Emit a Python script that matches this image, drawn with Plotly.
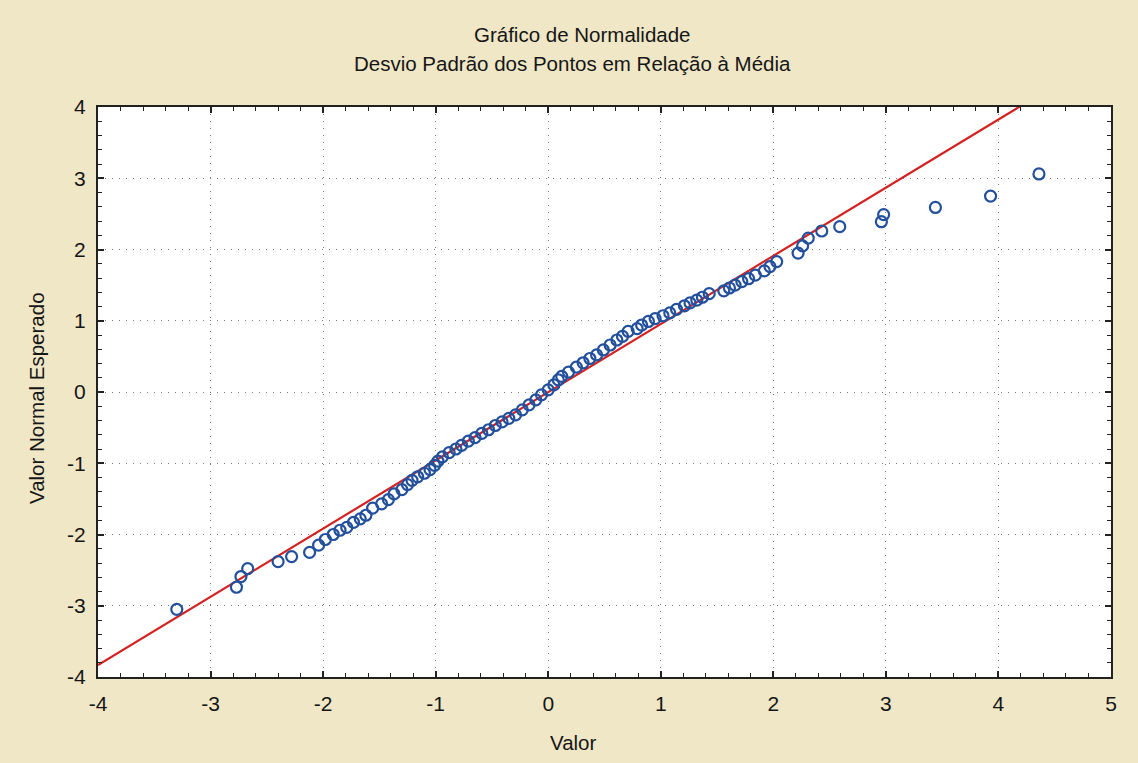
import plotly.graph_objects as go

# Observed values (x: Valor) and expected normal values (y)
valor = [-3.30, -2.77, -2.73, -2.67, -2.40, -2.28, -2.12, -2.04, -1.98, -1.91,
         -1.85, -1.79, -1.73, -1.67, -1.62, -1.56, -1.48, -1.42, -1.37, -1.30,
         -1.25, -1.21, -1.16, -1.10, -1.05, -1.01, -0.98, -0.94, -0.88, -0.82,
         -0.77, -0.71, -0.65, -0.59, -0.53, -0.47, -0.41, -0.35, -0.29, -0.23,
         -0.17, -0.11, -0.06, 0.00, 0.05, 0.09, 0.12, 0.18, 0.25, 0.31,
         0.37, 0.43, 0.49, 0.55, 0.61, 0.66, 0.71, 0.79, 0.83, 0.89,
         0.95, 1.02, 1.08, 1.14, 1.21, 1.26, 1.32, 1.37, 1.43, 1.56,
         1.61, 1.66, 1.72, 1.78, 1.84, 1.92, 1.97, 2.03, 2.22, 2.26,
         2.31, 2.43, 2.59, 2.96, 2.98, 3.44, 3.93, 4.36]
esperado = [-3.05, -2.74, -2.59, -2.48, -2.38, -2.31, -2.25, -2.15, -2.07, -2.00,
            -1.94, -1.90, -1.83, -1.78, -1.73, -1.63, -1.57, -1.51, -1.43, -1.37,
            -1.30, -1.24, -1.19, -1.14, -1.09, -1.03, -0.97, -0.91, -0.85, -0.80,
            -0.75, -0.69, -0.64, -0.58, -0.53, -0.47, -0.42, -0.37, -0.32, -0.25,
            -0.18, -0.11, -0.04, 0.03, 0.10, 0.17, 0.22, 0.28, 0.35, 0.41,
            0.47, 0.52, 0.59, 0.66, 0.73, 0.78, 0.85, 0.89, 0.94, 0.99,
            1.03, 1.07, 1.11, 1.16, 1.21, 1.25, 1.29, 1.33, 1.38, 1.42,
            1.46, 1.50, 1.55, 1.59, 1.64, 1.70, 1.76, 1.83, 1.95, 2.05,
            2.16, 2.26, 2.32, 2.39, 2.49, 2.59, 2.75, 3.06]

# Reference (fitted) line parameters
fit_slope = 0.957
fit_intercept = -0.003
fit_x = [-4.0, 5.0]
fit_y = [fit_intercept + fit_slope * v for v in fit_x]

x_ticks = [-4, -3, -2, -1, 0, 1, 2, 3, 4, 5]
y_ticks = [-4, -3, -2, -1, 0, 1, 2, 3, 4]

W, H = 1138, 763
ML, MR, MT, MB = 98, 27, 107, 86
pw = W - ML - MR
ph = H - MT - MB

def px_x(p):
    return (p - ML) / pw

def px_y(p):
    return (H - MB - p) / ph

font_family = "Liberation Sans, Arial, sans-serif"
text_color = "#161616"
bg = "#efe7c6"

fig = go.Figure()
fig.add_trace(go.Scatter(
    x=fit_x, y=fit_y, mode="lines",
    line=dict(color="#d42222", width=2.2),
    hoverinfo="skip", showlegend=False))
fig.add_trace(go.Scatter(
    x=valor, y=esperado, mode="markers",
    marker=dict(symbol="circle-open", size=11,
                line=dict(color="#23509c", width=2.2), color="#23509c"),
    showlegend=False))

axis_common = dict(
    showline=True, linecolor="#222222", linewidth=2, mirror="allticks",
    ticks="inside", ticklen=6, tickwidth=1.5, tickcolor="#222222",
    showgrid=True, gridcolor="#777777", gridwidth=1, griddash="1px,6px",
    zeroline=False,
    tickfont=dict(family=font_family, size=21, color=text_color),
    minor=dict(ticks="inside", ticklen=4, tickwidth=1.2, tickcolor="#222222",
               dtick=0.2, showgrid=False),
)

fig.update_xaxes(range=[-4, 5], tickvals=x_ticks, ticktext=[str(v) for v in x_ticks],
                 ticklabelstandoff=7, **axis_common)
fig.update_yaxes(range=[-4, 4], tickvals=y_ticks, ticktext=[str(v) for v in y_ticks],
                 ticklabelstandoff=6, **axis_common)

annots = [
    dict(text="Gráfico de Normalidade", x=px_x(582), y=px_y(34), size=20.5),
    dict(text="Desvio Padrão dos Pontos em Relação à Média", x=px_x(572), y=px_y(64), size=20.5),
    dict(text="Valor", x=px_x(573), y=px_y(742), size=20.5),
]
for a in annots:
    fig.add_annotation(text=a["text"], x=a["x"], y=a["y"], xref="paper", yref="paper",
                       showarrow=False, xanchor="center", yanchor="middle",
                       font=dict(family=font_family, size=a["size"], color=text_color))
fig.add_annotation(text="Valor Normal Esperado", x=px_x(36), y=px_y(398),
                   xref="paper", yref="paper", showarrow=False, textangle=-90,
                   xanchor="center", yanchor="middle",
                   font=dict(family=font_family, size=20.5, color=text_color))

fig.update_layout(
    width=W, height=H,
    margin=dict(l=ML, r=MR, t=MT, b=MB),
    paper_bgcolor=bg,
    plot_bgcolor="#ffffff",
)

fig.write_html(
    "out.html",
    config={"displayModeBar": False},
    post_script="document.body.style.margin='0';document.body.style.background='" + bg + "';",
)
